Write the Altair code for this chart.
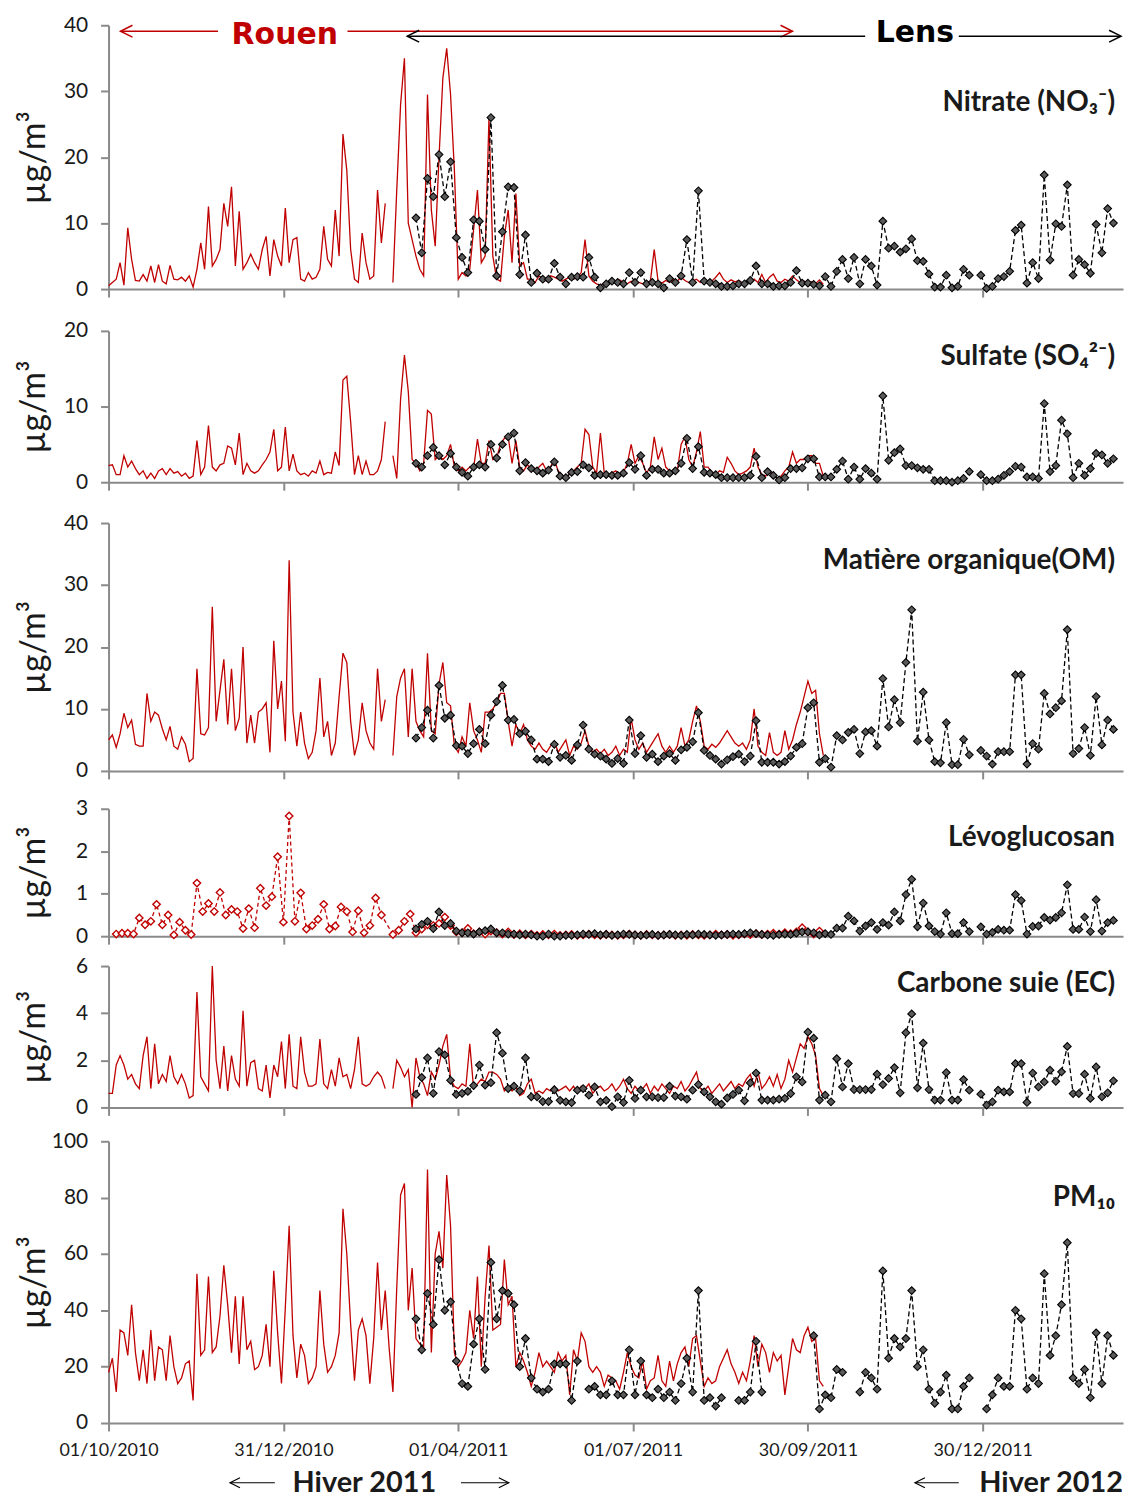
import pandas as pd
import altair as alt

FONT = "Lato"
RED = "#C00000"
GRAY = "#8a8a8a"
INK = "#1a1a1a"
W = 1019

# ---------------- sampling grids ----------------
ROUEN_START, ROUEN_STEP = "2010-10-01", 2
LENS_START, LENS_STEP = "2011-03-10", 3
LEVO_ROUEN_START, LEVO_ROUEN_STEP = "2010-10-05", 3

TICK_DATES = [(2010, 10, 1), (2010, 12, 31), (2011, 4, 1), (2011, 7, 1), (2011, 9, 30), (2011, 12, 30)]
DOMAIN = [(2010, 10, 1), (2012, 3, 12)]

# ---------------- Rouen (red, every 2 days) ----------------
NITRATE_ROUEN = [
    0.5, 1.0, 1.5, 4.0, 0.6, 9.3, 4.5, 1.3, 1.2, 2.2,
    1.2, 3.5, 1.0, 3.7, 1.2, 0.8, 3.6, 1.5, 1.4, 1.8,
    1.2, 2.0, 0.3, 3.0, 7.0, 3.0, 12.5, 3.5, 4.5, 6.0,
    13.0, 9.5, 15.5, 3.5, 11.8, 3.0, 4.0, 5.3, 4.0, 3.0,
    6.0, 8.0, 2.0, 7.5, 5.0, 3.5, 12.3, 4.0, 7.5, 7.8,
    1.5, 1.2, 2.5, 1.5, 1.8, 3.0, 9.5, 4.5, 3.5, 12.0,
    5.0, 23.5, 18.0, 6.0, 1.5, 1.0, 8.5, 4.0, 1.5, 2.0,
    15.0, 7.0, 13.0, None, 1.0, 15.0, 28.0, 35.0, 10.0, 7.5,
    5.0, 3.0, 2.0, 29.5, 12.0, 6.5, 20.0, 32.0, 36.5, 29.5,
    18.0, 1.5, 2.5, 2.0, 3.0, 9.0, 15.0, 4.0, 5.0, 26.0,
    5.0, 1.5, 1.2, 8.0, 12.0, 4.0, 14.5, 3.5, 4.0, 1.5,
    1.5, 1.0, 2.0, 1.5, 1.2, 2.0, 1.8, 1.5, 1.2, 1.5,
    1.8, 1.5, 1.8, 2.5, 7.5, 2.0, 1.2, 0.8, 0.6, 0.8,
    1.0, 1.2, 0.8, 1.4, 1.0, 0.8, 1.2, 0.9, 1.0, 0.8,
    1.0, 1.2, 6.0, 1.2, 0.9, 1.3, 1.0, 1.5, 1.2, 1.8,
    1.3, 1.0, 1.2, 1.5, 1.0, 1.3, 0.9, 1.2, 1.8, 2.5,
    1.5, 1.0, 1.4, 1.1, 1.3, 0.9, 1.2, 1.0, 1.5, 1.0,
    2.2, 1.0, 1.8, 2.3, 1.2, 1.0, 1.5, 1.2, 2.0, 1.4,
    1.0, 1.2, 0.9, 1.1, 0.8, 1.4, 0.7,
]
SULFATE_ROUEN = [
    2.2, 2.3, 1.0, 1.0, 3.5, 2.0, 2.8, 1.8, 1.0, 1.5,
    0.5, 1.2, 0.5, 1.5, 1.8, 1.0, 1.8, 1.2, 1.4, 0.8,
    1.2, 0.5, 0.8, 5.5, 1.0, 2.0, 7.5, 2.0, 1.5, 2.3,
    2.5, 4.8, 4.5, 2.3, 6.5, 1.0, 2.5, 1.5, 1.2, 1.5,
    2.3, 3.0, 4.0, 7.0, 1.5, 2.0, 7.3, 1.5, 3.7, 1.5,
    1.0, 1.2, 0.8, 1.5, 1.2, 2.8, 1.0, 1.3, 1.2, 4.0,
    2.2, 13.5, 14.0, 8.0, 1.0, 3.5, 1.0, 2.8, 1.0, 1.0,
    1.5, 3.0, 8.0, None, 3.5, 0.5, 11.0, 16.8, 12.0, 3.0,
    2.5, 1.5, 2.5, 9.5, 9.0, 3.0, 3.5, 3.0, 3.5, 5.0,
    2.0, 1.5, 2.0, 1.5, 2.0, 1.8, 5.7, 2.5, 2.5, 5.5,
    3.0, 3.2, 5.0, 5.8, 6.0, 2.5, 5.5, 2.0, 1.5, 2.3,
    1.8, 1.5, 2.0, 2.5, 1.5, 2.0, 3.0, 1.5, 1.0, 0.5,
    1.2, 1.5, 2.0, 2.5, 7.0, 6.3, 2.0, 1.2, 6.5, 1.2,
    1.0, 1.2, 1.5, 1.0, 1.3, 2.5, 5.0, 2.5, 3.5, 2.5,
    1.2, 2.0, 6.0, 3.0, 4.5, 2.0, 1.5, 1.3, 1.5, 5.0,
    6.0, 3.0, 2.0, 4.0, 6.7, 2.0, 2.0, 1.3, 1.0, 1.5,
    1.3, 3.3, 2.5, 1.5, 1.0, 1.2, 1.5, 2.0, 4.5, 2.0,
    1.0, 0.8, 1.5, 1.0, 0.5, 0.8, 1.5, 2.0, 4.0, 2.5,
    3.0, 3.0, 3.5, 3.5, 2.5, 2.5, 0.8,
]
OM_ROUEN = [
    5.0, 5.8, 3.8, 6.0, 9.3, 7.0, 8.2, 4.3, 4.0, 4.0,
    12.5, 8.0, 9.5, 9.0, 6.8, 5.0, 7.2, 4.0, 3.5, 5.5,
    4.3, 1.5, 2.0, 16.5, 6.0, 5.8, 7.0, 26.5, 8.0, 13.0,
    18.0, 7.5, 16.5, 6.5, 8.5, 20.0, 4.5, 9.0, 4.5, 9.5,
    10.0, 11.0, 3.0, 21.0, 10.0, 14.5, 4.8, 34.0, 9.5, 4.0,
    9.5, 4.5, 2.0, 3.0, 6.5, 15.0, 5.5, 8.0, 2.5, 4.5,
    12.0, 19.0, 17.5, 8.0, 2.5, 5.0, 11.0, 6.5, 4.5, 3.5,
    16.5, 8.0, 11.5, None, 2.5, 12.0, 15.0, 16.5, 5.5, 16.5,
    8.0, 6.5, 5.5, 19.0, 6.5, 6.0, 14.0, 17.5, 11.0, 10.5,
    4.0, 3.0, 5.5, 4.0, 11.0, 6.5, 5.0, 3.0, 9.5, 9.5,
    10.0, 11.0, 12.5, 12.5, 8.0, 4.0, 7.5, 6.0, 7.5, 5.0,
    4.0, 3.5, 4.5, 3.5, 3.0, 4.0, 4.8, 3.0, 4.0, 5.0,
    2.5, 4.0, 3.5, 4.5, 6.5, 4.0, 3.0, 3.5, 2.8, 3.5,
    2.5, 3.0, 4.0, 2.5, 3.5, 3.0, 8.5, 5.0, 3.5, 4.5,
    3.0, 4.0, 5.0, 6.0, 4.0, 3.0, 4.0, 3.0, 4.0, 7.0,
    4.0, 5.0, 8.0, 10.5, 8.0, 4.0, 3.5, 4.3, 3.8, 4.5,
    5.5, 6.5, 5.5, 4.5, 4.0, 4.5, 3.5, 5.0, 10.0, 4.0,
    3.0, 2.5, 6.2, 3.0, 2.5, 3.0, 6.5, 3.5, 5.0, 7.5,
    9.5, 12.0, 14.5, 12.5, 13.0, 6.0, 2.5,
]
EC_ROUEN = [
    0.6, 0.6, 1.8, 2.2, 1.8, 1.2, 1.4, 1.0, 0.8, 2.2,
    3.0, 0.8, 2.7, 1.0, 1.4, 1.1, 2.2, 1.3, 1.0, 1.4,
    1.0, 0.4, 0.5, 4.9, 1.3, 1.0, 0.7, 6.0, 2.0, 0.8,
    2.6, 0.7, 2.2, 1.2, 0.9, 4.1, 0.9, 1.9, 2.0, 0.8,
    0.7, 1.8, 0.4, 1.8, 1.3, 2.8, 0.8, 3.1, 0.9, 0.8,
    3.0, 1.5, 0.9, 0.9, 1.0, 2.9, 1.0, 0.8, 1.6, 0.9,
    2.1, 1.3, 1.4, 0.8, 1.6, 3.0, 1.0, 0.9, 1.0, 1.3,
    1.5, 1.3, 0.8, None, 0.8, 2.0, 1.7, 1.3, 1.6, 0.0,
    2.1, 1.3, 1.0, 0.5, 1.5, 1.2, 1.8, 2.6, 3.1, 1.2,
    0.9, 0.8, 1.0, 0.9, 2.7, 0.8, 1.0, 1.2, 1.1, 1.5,
    1.5, 1.4, 1.2, 0.7, 0.9, 0.7, 0.9, 0.5, 0.6, 1.0,
    1.2, 0.6, 0.7, 0.6, 0.8, 0.7, 0.9, 0.7, 0.8, 0.9,
    0.7, 0.9, 0.6, 0.9, 0.8, 1.0, 0.6, 0.8, 0.9, 0.7,
    0.8, 1.0, 0.7, 0.9, 1.2, 0.8, 0.6, 0.9, 0.7, 0.8,
    1.0, 0.6, 0.9, 0.7, 1.0, 0.8, 0.6, 0.9, 0.8, 1.1,
    0.7, 0.9, 1.2, 1.5, 0.8, 0.7, 0.9, 0.6, 0.8, 1.0,
    0.7, 0.9, 1.1, 0.8, 1.0, 0.9, 1.2, 1.4, 0.9, 1.5,
    0.8, 1.0, 1.3, 0.9, 1.4, 0.8, 1.2, 2.0, 1.5, 2.1,
    2.7, 2.5, 3.0, 2.7, 2.2, 0.8, 0.5,
]
PM10_ROUEN = [
    18, 23, 11, 33, 32, 24, 42, 25, 15, 26,
    14, 33, 15, 27, 26, 15, 31, 20, 14, 16,
    21, 22, 8, 53, 24, 26, 52, 25, 27, 38,
    56, 42, 25, 45, 21, 45, 26, 29, 19, 20,
    24, 35, 20, 54, 32, 14, 41, 70, 31, 16,
    28, 24, 14, 16, 20, 47, 28, 18, 20, 24,
    32, 76, 60, 35, 15, 33, 37, 31, 14, 30,
    57, 33, 47, 27, 11, 48, 81, 85, 40, 55,
    30, 28, 27, 90, 25, 60, 68, 55, 88, 70,
    25, 20, 22, 25, 40, 30, 52, 20, 45, 63,
    33, 34, 35, 58, 42, 45, 20, 25, 22, 18,
    13, 18, 25, 20, 22, 20, 18, 25, 22, 24,
    10, 26, 22, 32, 29, 20, 18, 20, 18, 13,
    17, 16, 15, 12, 18, 25, 20, 17, 16, 22,
    12, 15, 16, 24, 15, 13, 22, 15, 21, 25,
    27, 20, 30, 31, 22, 13, 16, 14, 15, 20,
    23, 26, 21, 18, 14, 18, 15, 22, 31, 20,
    28, 25, 18, 25, 22, 24, 10, 20, 30, 26,
    25, 31, 34, 29, 30, 15, 13,
]
# Levoglucosan Rouen (red dashed, hollow diamonds, every 3 days)
LEVO_ROUEN = [
    0.05, 0.07, 0.07, 0.05, 0.43, 0.27, 0.35, 0.75, 0.27, 0.50,
    0.03, 0.33, 0.14, 0.04, 1.25, 0.58, 0.77, 0.58, 1.03, 0.50,
    0.63, 0.58, 0.18, 0.65, 0.20, 1.13, 0.72, 0.93, 1.87, 0.33,
    2.83, 0.35, 1.02, 0.17, 0.25, 0.40, 0.75, 0.17, 0.24, 0.69,
    0.58, 0.10, 0.60, 0.08, 0.25, 0.90, 0.50, None, 0.04, 0.14,
    0.35, 0.52, 0.08, 0.17, 0.27, 0.25, 0.30, 0.45, 0.25, 0.10,
    0.08, 0.18, 0.06, 0.10, 0.05, 0.12, 0.08, 0.05, 0.10, 0.04,
    0.06, 0.03, 0.05, 0.02, 0.04, 0.03, 0.05, 0.02, 0.03, 0.04,
    0.02, 0.03, 0.05, 0.03, 0.02, 0.04, 0.03, 0.02, 0.03, 0.05,
    0.03, 0.02, 0.04, 0.03, 0.02, 0.03, 0.04, 0.02, 0.03, 0.02,
    0.04, 0.03, 0.02, 0.03, 0.05, 0.03, 0.04, 0.02, 0.03, 0.05,
    0.04, 0.06, 0.04, 0.05, 0.07, 0.05, 0.08, 0.06, 0.10, 0.20,
    0.10, 0.05, 0.12,
]

# ---------------- Lens (black dashed + diamonds, every 3 days) ----------------
NITRATE_LENS = [
    10.8, 5.5, 16.8, 14.0, 20.4, 14.0, 19.3, 7.8, 4.8, 2.5,
    10.5, 10.3, 6.0, 26.0, 2.0, 8.7, 15.5, 15.4, 2.2, 8.2,
    1.0, 2.4, 1.5, 1.5, 3.9, 1.8, 0.8, 1.8, 1.9, 1.8,
    4.8, 1.8, 0.2, 0.8, 1.2, 1.0, 0.8, 2.5, 1.0, 2.5,
    0.8, 1.0, 0.8, 0.2, 1.6, 1.0, 2.0, 7.5, 1.0, 14.9,
    1.2, 1.0, 0.8, 0.4, 0.4, 0.5, 0.8, 0.8, 1.3, 3.5,
    0.8, 0.8, 0.4, 0.5, 0.5, 1.0, 2.8, 0.9, 0.9, 0.7,
    0.5, 1.9, 0.4, 2.7, 4.5, 1.6, 4.8, 0.8, 4.5, 3.5,
    0.6, 10.3, 6.2, 6.5, 5.6, 6.1, 7.6, 4.3, 4.2, 2.3,
    0.3, 0.3, 2.1, 0.2, 0.4, 3.0, 2.1, None, 2.1, 0.1,
    0.4, 1.6, 1.9, 2.7, 8.9, 9.7, 0.9, 4.0, 1.6, 17.3,
    4.4, 9.9, 9.5, 15.8, 2.1, 4.5, 3.7, 2.4, 9.8, 5.5,
    12.2, 10.0,
]
SULFATE_LENS = [
    2.5, 2.0, 3.5, 4.6, 3.5, 2.3, 3.8, 2.0, 1.3, 0.8,
    2.0, 2.3, 2.0, 5.0, 3.2, 5.0, 6.0, 6.5, 1.5, 2.6,
    1.8, 1.5, 1.2, 1.6, 2.7, 0.8, 0.6, 1.3, 1.4, 2.3,
    1.9, 0.9, 1.0, 1.0, 0.9, 0.9, 1.2, 2.6, 1.7, 3.5,
    0.9, 1.7, 1.7, 1.2, 1.2, 1.5, 2.5, 5.8, 1.8, 4.7,
    1.3, 1.2, 1.0, 0.6, 0.6, 0.6, 0.6, 0.6, 0.9, 3.4,
    0.6, 1.4, 0.9, 0.3, 0.6, 1.8, 1.8, 1.9, 3.1, 3.1,
    0.7, 0.7, 0.7, 1.7, 2.8, 0.4, 2.0, 0.4, 1.8, 1.2,
    0.4, 11.4, 2.9, 3.9, 4.4, 2.2, 2.2, 1.9, 1.7, 1.7,
    0.2, 0.2, 0.2, 0.0, 0.2, 0.5, 1.4, None, 1.0, 0.2,
    0.2, 0.4, 0.9, 1.4, 2.1, 2.0, 0.7, 0.7, 0.5, 10.4,
    1.4, 2.2, 8.2, 6.4, 0.6, 2.5, 0.9, 1.8, 3.8, 3.6,
    2.5, 3.1,
]
OM_LENS = [
    5.3, 7.0, 9.8, 5.3, 13.8, 8.5, 9.0, 4.1, 4.0, 2.8,
    4.4, 6.7, 4.4, 9.0, 11.2, 13.8, 8.2, 8.3, 6.0, 6.4,
    5.0, 1.9, 1.9, 1.5, 4.3, 2.2, 2.5, 1.7, 4.2, 7.4,
    3.5, 2.7, 2.4, 1.9, 1.2, 2.0, 1.2, 8.2, 2.8, 5.7,
    2.2, 2.7, 1.5, 2.4, 2.8, 1.7, 3.4, 3.8, 4.7, 9.4,
    3.3, 2.5, 1.9, 1.1, 1.8, 2.3, 2.7, 1.5, 2.4, 8.1,
    1.4, 1.4, 1.4, 1.1, 1.5, 2.4, 3.8, 4.4, 10.2, 11.0,
    1.4, 2.0, 0.6, 5.7, 5.0, 6.2, 6.7, 2.8, 6.3, 6.5,
    4.0, 14.9, 7.1, 11.5, 7.8, 17.5, 26.0, 4.8, 12.7, 5.0,
    1.5, 1.3, 7.8, 1.0, 1.0, 5.1, 2.6, None, 3.3, 2.4,
    1.1, 3.1, 3.1, 3.1, 15.5, 15.5, 1.1, 4.4, 3.5, 12.5,
    9.2, 10.2, 11.3, 22.8, 2.8, 3.6, 7.0, 2.5, 12.0, 4.2,
    8.2, 6.7,
]
LEVO_LENS = [
    0.17, 0.28, 0.35, 0.18, 0.57, 0.25, 0.30, 0.12, 0.08, 0.08,
    0.05, 0.10, 0.13, 0.17, 0.08, 0.08, 0.05, 0.05, 0.03, 0.05,
    0.03, 0.00, 0.00, 0.05, 0.00, 0.00, 0.02, 0.02, 0.03, 0.05,
    0.04, 0.06, 0.03, 0.04, 0.02, 0.03, 0.05, 0.04, 0.03, 0.02,
    0.03, 0.04, 0.02, 0.03, 0.04, 0.03, 0.02, 0.04, 0.03, 0.05,
    0.04, 0.03, 0.02, 0.03, 0.04, 0.05, 0.04, 0.06, 0.08, 0.06,
    0.04, 0.03, 0.02, 0.04, 0.05, 0.04, 0.07, 0.10, 0.10, 0.08,
    0.03, 0.06, 0.04, 0.19, 0.19, 0.47, 0.36, 0.12, 0.24, 0.32,
    0.16, 0.32, 0.26, 0.57, 0.36, 0.98, 1.34, 0.22, 0.78, 0.24,
    0.11, 0.05, 0.55, 0.06, 0.06, 0.32, 0.11, None, 0.22, 0.05,
    0.09, 0.16, 0.14, 0.14, 0.98, 0.84, 0.05, 0.23, 0.24, 0.44,
    0.38, 0.44, 0.55, 1.21, 0.16, 0.16, 0.45, 0.11, 0.86, 0.12,
    0.32, 0.37,
]
EC_LENS = [
    0.55, 1.27, 2.10, 0.60, 2.37, 2.23, 1.15, 0.55, 0.60, 0.68,
    0.93, 1.80, 0.95, 1.05, 3.17, 2.30, 0.80, 0.90, 0.70, 2.10,
    0.45, 0.45, 0.25, 0.25, 0.75, 0.30, 0.24, 0.20, 0.73, 0.80,
    0.52, 0.87, 0.24, 0.30, 0.03, 0.45, 0.21, 1.15, 0.38, 0.73,
    0.45, 0.45, 0.42, 0.42, 0.90, 0.48, 0.45, 0.35, 0.73, 0.97,
    0.66, 0.45, 0.24, 0.14, 0.40, 0.55, 0.73, 0.28, 1.04, 1.46,
    0.31, 0.31, 0.31, 0.35, 0.38, 0.59, 1.30, 1.08, 3.20, 2.94,
    0.31, 0.52, 0.24, 2.07, 0.87, 1.86, 0.76, 0.76, 0.76, 0.76,
    1.41, 0.97, 1.23, 1.69, 0.62, 3.17, 3.97, 0.83, 2.73, 0.76,
    0.31, 0.31, 1.48, 0.31, 0.31, 1.18, 0.73, None, 0.56, 0.10,
    0.24, 0.73, 0.66, 0.66, 1.86, 1.86, 0.21, 1.46, 0.87, 1.08,
    1.58, 1.11, 1.51, 2.59, 0.59, 0.59, 1.41, 0.38, 1.72, 0.45,
    0.62, 1.13,
]
PM10_LENS = [
    37, 26, 46, 35, 58, 40, 43, 22, 14, 13,
    28, 37, 19, 57, 37, 47, 46, 42, 20, 30,
    16, 12, 11, 12, 21, 21, 21, 8, 22, None,
    12, 13, 10, 10, 15, 10, 10, 26, 10, 22,
    10, 9, 12, 9, 11, 8, 14, 23, 11, 47,
    8, 9, 6, 9, None, None, 8, 8, 11, 29,
    11, None, None, None, None, None, None, None, None, 31,
    5, 10, 9, 19, 18, None, None, 11, 18, 16,
    12, 54, 23, 30, 27, 30, 47, 20, 26, 12,
    7, 11, 17, 5, 5, 13, 16, None, None, 5,
    10, 16, 13, 13, 40, 37, 12, 16, 14, 53,
    24, 31, 42, 64, 16, 14, 19, 9, 32, 14,
    31, 24,
]

PANEL_LABELS = ["Nitrate (NO\u2083\u207b)", "Sulfate (SO\u2084\u00b2\u207b)", "Matière organique(OM)",
                "Lévoglucosan", "Carbone suie (EC)", "PM\u2081\u2080"]
HEIGHTS = [265, 152, 249, 128, 142, 283]
GAPS = [42, 41, 38, 30, 34]


def dt(t):
    return alt.DateTime(year=t[0], month=t[1], date=t[2])


def frame(start, step, values, break_gaps=True):
    t0 = pd.Timestamp(start)
    rows, seg = [], 0
    for i, v in enumerate(values):
        if v is None:
            if break_gaps:
                seg += 1
            continue
        d = t0 + pd.Timedelta(days=step * i)
        rows.append({"date": d.strftime("%Y-%m-%dT00:00:00"), "value": v, "seg": seg})
    return pd.DataFrame(rows)


ONE = pd.DataFrame({"t": [""]})


def txt(s, x, y, size, color=INK, weight="bold", align="center", font=FONT):
    return alt.Chart(pd.DataFrame({"t": [s]})).mark_text(
        align=align, baseline="middle", font=font, fontSize=size, fontWeight=weight, color=color
    ).encode(x=alt.value(x), y=alt.value(y), text="t:N")


def hline(x1, x2, y, color, w=1.5):
    return alt.Chart(ONE).mark_rule(color=color, strokeWidth=w).encode(
        x=alt.value(x1), x2=alt.value(x2), y=alt.value(y))


LEFT = "M 1 -1 L -1 0 L 1 1"
RIGHT = "M -1 -1 L 1 0 L -1 1"


def head(tip_x, y, color, direction, size=144, w=1.5):
    r = size ** 0.5 / 2
    cx = tip_x + r if direction == "left" else tip_x - r
    return alt.Chart(ONE).mark_point(
        shape=LEFT if direction == "left" else RIGHT, filled=False, stroke=color,
        strokeWidth=w, size=size, opacity=1
    ).encode(x=alt.value(cx), y=alt.value(y))


def panel(rouen_df, lens_df, ymax, ystep, h, label, label_y, bottom=False,
          rouen_markers=False, extra=()):
    x = alt.X("date:T",
              scale=alt.Scale(domain=[dt(DOMAIN[0]), dt(DOMAIN[1])], nice=False),
              axis=alt.Axis(values=[dt(t) for t in TICK_DATES], format="%d/%m/%Y",
                            labels=bottom, title=None, grid=False, labelFlush=False,
                            domainColor=GRAY, domainWidth=2, tickColor=GRAY, tickWidth=2,
                            tickSize=8, labelFontSize=18, labelColor=INK, labelPadding=11,
                            labelFont=FONT))
    y = alt.Y("value:Q",
              scale=alt.Scale(domain=[0, ymax], nice=False, zero=True),
              axis=alt.Axis(values=list(range(0, ymax + 1, ystep)), grid=False,
                            title="µg/m³", titleFont=FONT, titleFontSize=34,
                            titleFontWeight="normal", titleColor=INK, titleAngle=-90,
                            titleX=-64, titleY=h / 2, titleAlign="center",
                            titleBaseline="alphabetic",
                            domainColor=GRAY, domainWidth=2, tickColor=GRAY, tickWidth=2,
                            tickSize=8, labelFontSize=21, labelColor=INK, labelPadding=13,
                            labelFont=FONT))
    layers = []
    if rouen_markers:
        layers.append(alt.Chart(rouen_df).mark_line(color=RED, strokeWidth=1.3,
                                                    strokeDash=[4, 3]).encode(x=x, y=y, detail="seg:N"))
        layers.append(alt.Chart(rouen_df).mark_point(shape="diamond", filled=True, fill="white",
                                                     stroke=RED, strokeWidth=1.4, size=55,
                                                     opacity=1).encode(x=x, y=y))
    else:
        layers.append(alt.Chart(rouen_df).mark_line(color=RED, strokeWidth=1.3).encode(
            x=x, y=y, detail="seg:N"))
    layers.append(alt.Chart(lens_df).mark_line(color="black", strokeWidth=1.3,
                                               strokeDash=[5, 3]).encode(x=x, y=y, detail="seg:N"))
    layers.append(alt.Chart(lens_df).mark_point(shape="diamond", filled=True, fill="#5a5a5a",
                                                stroke="black", strokeWidth=1.1, size=60,
                                                opacity=1).encode(x=x, y=y))
    layers.append(txt(label, W - 8, label_y, 28, align="right"))
    layers.extend(extra)
    return alt.layer(*layers).properties(width=W, height=h)


def spacer(h):
    return alt.Chart(ONE).mark_point(opacity=0).encode(
        x=alt.value(0), y=alt.value(0)).properties(width=W, height=h)


top_annotations = [
    hline(12, 110, 6, RED), hline(240, 687, 6, RED),
    head(12, 6, RED, "left"), head(687, 6, RED, "right"),
    txt("Rouen", 177, 10, 30, color=RED, font="DejaVu Sans"),
    hline(300, 760, 11, "black"), hline(854, 1017, 11, "black"),
    head(300, 11, "black", "left"), head(1017, 11, "black", "right"),
    txt("Lens", 810, 8, 30, color="black", font="DejaVu Sans"),
]
bottom_annotations = [
    txt("Hiver 2011", 257, 343, 29),
    hline(122, 167, 343, "black", 1.2), head(122, 343, "black", "left", 100, 1.2),
    hline(354, 402, 343, "black", 1.2), head(402, 343, "black", "right", 100, 1.2),
    txt("Hiver 2012", W, 343, 29, align="right"),
    hline(810, 854, 343, "black", 1.2), head(810, 343, "black", "left", 100, 1.2),
]

p1 = panel(frame(ROUEN_START, ROUEN_STEP, NITRATE_ROUEN), frame(LENS_START, LENS_STEP, NITRATE_LENS),
           40, 10, HEIGHTS[0], PANEL_LABELS[0], 78, extra=top_annotations)
p2 = panel(frame(ROUEN_START, ROUEN_STEP, SULFATE_ROUEN), frame(LENS_START, LENS_STEP, SULFATE_LENS),
           20, 10, HEIGHTS[1], PANEL_LABELS[1], 26)
p3 = panel(frame(ROUEN_START, ROUEN_STEP, OM_ROUEN), frame(LENS_START, LENS_STEP, OM_LENS),
           40, 10, HEIGHTS[2], PANEL_LABELS[2], 38)
p4 = panel(frame(LEVO_ROUEN_START, LEVO_ROUEN_STEP, LEVO_ROUEN, break_gaps=False),
           frame(LENS_START, LENS_STEP, LEVO_LENS),
           3, 1, HEIGHTS[3], PANEL_LABELS[3], 29, rouen_markers=True)
p5 = panel(frame(ROUEN_START, ROUEN_STEP, EC_ROUEN), frame(LENS_START, LENS_STEP, EC_LENS),
           6, 2, HEIGHTS[4], PANEL_LABELS[4], 18)
p6 = panel(frame(ROUEN_START, ROUEN_STEP, PM10_ROUEN), frame(LENS_START, LENS_STEP, PM10_LENS),
           100, 20, HEIGHTS[5], PANEL_LABELS[5], 57, bottom=True, extra=bottom_annotations)

parts = [p1, spacer(GAPS[0]), p2, spacer(GAPS[1]), p3, spacer(GAPS[2]), p4,
         spacer(GAPS[3]), p5, spacer(GAPS[4]), p6]

chart = alt.vconcat(*parts, spacing=0, bounds="flush").properties(
    padding={"left": 10, "top": 3, "right": 5, "bottom": 0}
).configure_view(stroke=None).configure_concat(spacing=0)

chart.save("out.html", embed_options={"renderer": "svg", "actions": False})
